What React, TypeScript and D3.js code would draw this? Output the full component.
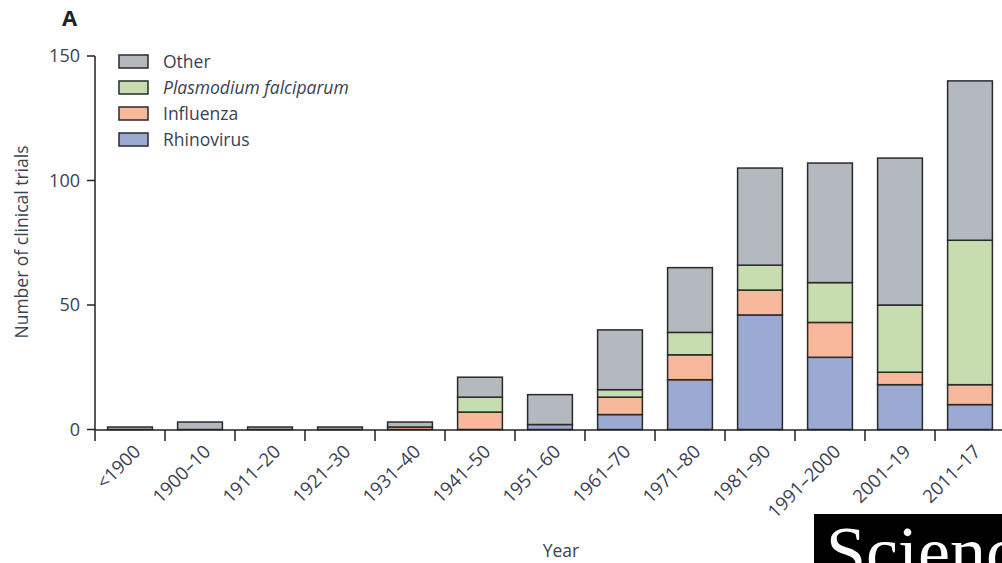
import { scaleBand, scaleLinear, stack } from "d3";

const width = 1002;
const height = 563;

// decades on the x axis
const periods = [
  "<1900", "1900–10", "1911–20", "1921–30", "1931–40", "1941–50", "1951–60",
  "1961–70", "1971–80", "1981–90", "1991–2000", "2001–19", "2011–17",
];

// number of trials per period, one array per pathogen
const rhinovirus = [0, 0, 0, 0, 0, 0, 2, 6, 20, 46, 29, 18, 10];
const influenza = [0, 0, 0, 0, 1, 7, 0, 7, 10, 10, 14, 5, 8];
const plasmodium = [0, 0, 0, 0, 0, 6, 0, 3, 9, 10, 16, 27, 58];
const other = [1, 3, 1, 1, 2, 8, 12, 24, 26, 39, 48, 59, 64];

const seriesKeys = ["rhinovirus", "influenza", "plasmodium", "other"];
const legendItems = [
  { key: "other", label: "Other", italic: false },
  { key: "plasmodium", label: "Plasmodium falciparum", italic: true },
  { key: "influenza", label: "Influenza", italic: false },
  { key: "rhinovirus", label: "Rhinovirus", italic: false },
];
const yTicks = [0, 50, 100, 150];

const colors: Record<string, string> = {
  other: "#b3b9bf",
  plasmodium: "#c7ddb0",
  influenza: "#f8b89b",
  rhinovirus: "#9baad3",
};

const textColor = "#3a4253";
const font = "'Open Sans', sans-serif";

const rows = periods.map((p, i) => ({
  period: p,
  rhinovirus: rhinovirus[i],
  influenza: influenza[i],
  plasmodium: plasmodium[i],
  other: other[i],
}));

const App = () => {
  const x = scaleBand()
    .domain(periods)
    .range([95, 1005])
    .paddingInner(0.36)
    .paddingOuter(0.18);

  const y = scaleLinear().domain([0, 150]).range([429.5, 56]);

  const stacked = stack<(typeof rows)[number]>().keys(seriesKeys)(rows);

  const x0 = x.range()[0];
  const boundaries = periods.map((_, i) => x0 + (i + 1) * x.step());

  return (
    <svg width={width} height={height} style={{ display: "block", position: "absolute", left: 0, top: 0 }}>
      <rect width={width} height={height} fill="#fff" />
      <text x={62} y={26} fontFamily={font} fontWeight={700} fontSize={22} fill="#222">
        A
      </text>

      {/* bars */}
      {stacked.map((s) => (
        <g key={s.key} fill={colors[s.key]} stroke="#2a2a2a" strokeWidth={1.5}>
          {s.map((d, i) =>
            d[1] - d[0] > 0 ? (
              <rect
                key={i}
                x={x(d.data.period)}
                y={y(d[1])}
                width={x.bandwidth()}
                height={y(d[0]) - y(d[1])}
              />
            ) : null
          )}
        </g>
      ))}

      {/* y axis */}
      <line x1={x0} x2={x0} y1={y(150)} y2={441} stroke="#222" strokeWidth={1.5} />
      {yTicks.map((t) => (
        <g key={t}>
          <line x1={x0 - 8} x2={x0} y1={y(t)} y2={y(t)} stroke="#222" strokeWidth={1.5} />
          <text
            x={x0 - 15}
            y={y(t)}
            dy="0.35em"
            textAnchor="end"
            fontFamily={font}
            fontSize={18}
            fill={textColor}
          >
            {t}
          </text>
        </g>
      ))}
      <text
        transform={`translate(28, 242) rotate(-90)`}
        textAnchor="middle"
        fontFamily={font}
        fontSize={17.5}
        fill={textColor}
      >
        Number of clinical trials
      </text>

      {/* x axis */}
      <line x1={x0} x2={width} y1={430} y2={430} stroke="#222" strokeWidth={1.5} />
      {boundaries.map((b, i) => (
        <line key={i} x1={b} x2={b} y1={430} y2={441} stroke="#222" strokeWidth={1.5} />
      ))}
      {periods.map((p) => (
        <text
          key={p}
          transform={`translate(${(x(p) ?? 0) + x.bandwidth() / 2 + 2}, 443) rotate(-45)`}
          dy="0.75em"
          textAnchor="end"
          fontFamily={font}
          fontSize={18.5}
          fill={textColor}
        >
          {p}
        </text>
      ))}
      <text x={561} y={557} textAnchor="middle" fontFamily={font} fontSize={17.5} fill={textColor}>
        Year
      </text>

      {/* legend */}
      {legendItems.map((l, i) => (
        <g key={l.key} transform={`translate(119, ${55 + i * 26})`}>
          <rect width={29} height={13} fill={colors[l.key]} stroke="#2a2a2a" strokeWidth={1.5} />
          <text
            x={44}
            y={7}
            dy="0.35em"
            fontFamily={font}
            fontSize={17.5}
            fontStyle={l.italic ? "italic" : "normal"}
            fill={textColor}
          >
            {l.label}
          </text>
        </g>
      ))}

      {/* Science watermark */}
      <rect x={814} y={514} width={width - 814} height={height - 514} fill="#000" />
      <text x={826} y={576} fontFamily="'Liberation Serif', serif" fontSize={72} fill="#fff">
        Science
      </text>
    </svg>
  );
};

export default App;
